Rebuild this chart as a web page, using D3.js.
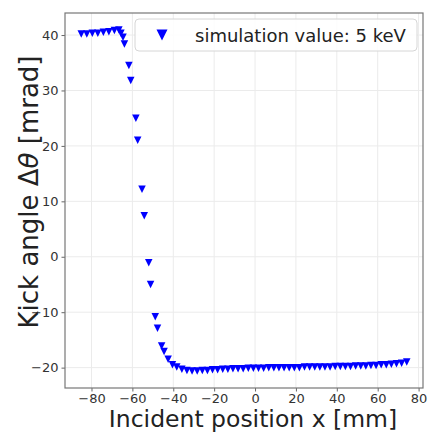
<!DOCTYPE html>
<html>
<head>
<meta charset="utf-8">
<script src="https://cdn.jsdelivr.net/npm/d3@7"></script>
<style>
  body { margin: 0; background: #fff; }
  svg { display: block; font-family: "DejaVu Sans", sans-serif; }
</style>
</head>
<body>
<svg id="chart" width="428" height="432"></svg>
<script>
// incident position [mm] and kick angle [mrad]
var xPos = [-85, -82.3, -79.6, -76.9, -74.2, -71.5, -68.8, -66.6, -65.6, -64.6, -63.9,
  -61.7, -60.8, -58.3, -57.4, -55.3, -54.2, -52.0, -51.1, -48.8, -47.7, -45.7, -44.5, -42.5, -40.4,
  -38.3, -35.8, -33.3, -30.8, -28.3, -25.8, -23.3, -20.8, -18.3, -15.8, -13.3, -10.8, -8.3, -5.8,
  -3.3, -0.8, 1.7, 4.2, 6.7, 9.2, 11.7, 14.2, 16.7, 19.2, 21.7, 24.2, 26.7, 29.2, 31.7, 34.2,
  36.7, 39.2, 41.7, 44.2, 46.7, 49.2, 51.7, 54.2, 56.7, 59.2, 61.7, 64.2, 66.7, 69.2, 71.7, 74.2];
var kick = [40.2, 40.2, 40.3, 40.3, 40.5, 40.6, 40.8, 40.9, 40.3, 39.6, 38.4,
  34.5, 31.8, 25.0, 21.0, 12.2, 7.4, -1.1, -5.0, -10.8, -12.9, -16.1, -17.1, -18.5, -19.5,
  -19.9, -20.3, -20.5, -20.6, -20.6, -20.5, -20.5, -20.4, -20.4, -20.3, -20.3, -20.2, -20.2, -20.2,
  -20.1, -20.1, -20.1, -20.1, -20.0, -20.0, -20.0, -20.0, -20.0, -20.0, -20.0, -19.9, -19.9, -19.9, -19.9, -19.9,
  -19.9, -19.8, -19.8, -19.8, -19.8, -19.7, -19.7, -19.7, -19.6, -19.6, -19.5, -19.5, -19.4, -19.3, -19.2, -19.0];
var xTicks = [-80, -60, -40, -20, 0, 20, 40, 60, 80];
var yTicks = [-20, -10, 0, 10, 20, 30, 40];
var legendLabel = "simulation value: 5 keV";

var data = xPos.map(function (x, i) { return { x: x, y: kick[i] }; });

var svg = d3.select("#chart"),
  box = { l: 65, r: 423, t: 13, b: 388 };

// matplotlib style 5% padding around the data
var xs = d3.extent(xPos), ys = d3.extent(kick);
var xPad = (xs[1] - xs[0]) * 0.05, yPad = (ys[1] - ys[0]) * 0.05;
var x = d3.scaleLinear().domain([xs[0] - xPad, xs[1] + xPad]).range([box.l, box.r]);
var y = d3.scaleLinear().domain([ys[0] - yPad, ys[1] + yPad]).range([box.b, box.t]);

var fmt = function (d) { return d < 0 ? "\u2212" + Math.abs(d) : "" + d; };

// grid
svg.append("g").selectAll("line").data(xTicks.filter(function (d) { return x(d) <= box.r; }))
  .enter().append("line")
  .attr("x1", function (d) { return x(d); }).attr("x2", function (d) { return x(d); })
  .attr("y1", box.t).attr("y2", box.b)
  .attr("stroke", "#ebebeb").attr("stroke-width", 1);
svg.append("g").selectAll("line").data(yTicks)
  .enter().append("line")
  .attr("x1", box.l).attr("x2", box.r)
  .attr("y1", function (d) { return y(d); }).attr("y2", function (d) { return y(d); })
  .attr("stroke", "#ebebeb").attr("stroke-width", 1);

// axes
var xAxis = svg.append("g").attr("transform", "translate(0," + box.b + ")")
  .call(d3.axisBottom(x).tickValues(xTicks).tickFormat(fmt).tickSize(3.5).tickPadding(2));
var yAxis = svg.append("g").attr("transform", "translate(" + box.l + ",0)")
  .call(d3.axisLeft(y).tickValues(yTicks).tickFormat(fmt).tickSize(3.5).tickPadding(3));
[xAxis, yAxis].forEach(function (g) {
  g.select(".domain").remove();
  g.selectAll("line").attr("stroke", "#666");
  g.selectAll("text").attr("fill", "#333").style("font-size", "13px")
    .style("font-family", "'DejaVu Sans', sans-serif");
});

// frame
svg.append("rect").attr("x", box.l).attr("y", box.t)
  .attr("width", box.r - box.l).attr("height", box.b - box.t)
  .attr("fill", "none").attr("stroke", "#777").attr("stroke-width", 1.2);

// markers
var tri = function (w) { return "M" + (-w / 2) + "," + (-w / 2) + "L" + (w / 2) + "," + (-w / 2) + "L0," + (w / 2) + "Z"; };
svg.append("g").selectAll("path").data(data).enter().append("path")
  .attr("d", tri(7.5))
  .attr("transform", function (d) { return "translate(" + x(d.x) + "," + y(d.y) + ")"; })
  .attr("fill", "#0000ff");

// legend
var lg = svg.append("g");
lg.append("rect").attr("x", 135).attr("y", 19).attr("width", 282).attr("height", 32)
  .attr("rx", 4).attr("fill", "#fff").attr("fill-opacity", 0.85)
  .attr("stroke", "#d6d6d6");
lg.append("path").attr("d", tri(11)).attr("transform", "translate(162,35)").attr("fill", "#0000ff");
lg.append("text").attr("x", 195).attr("y", 41.5).text(legendLabel)
  .attr("fill", "#222").style("font-size", "18px");

// axis labels
svg.append("text").attr("x", 253).attr("y", 427)
  .attr("text-anchor", "middle").attr("fill", "#222").style("font-size", "23.5px")
  .text("Incident position x [mm]");
var yl = svg.append("text")
  .attr("transform", "translate(38,192)rotate(-90)")
  .attr("text-anchor", "middle").attr("fill", "#222").style("font-size", "26px");
yl.append("tspan").text("Kick angle \u0394");
yl.append("tspan").style("font-style", "italic").text("\u03b8");
yl.append("tspan").text(" [mrad]");
</script>
</body>
</html>
